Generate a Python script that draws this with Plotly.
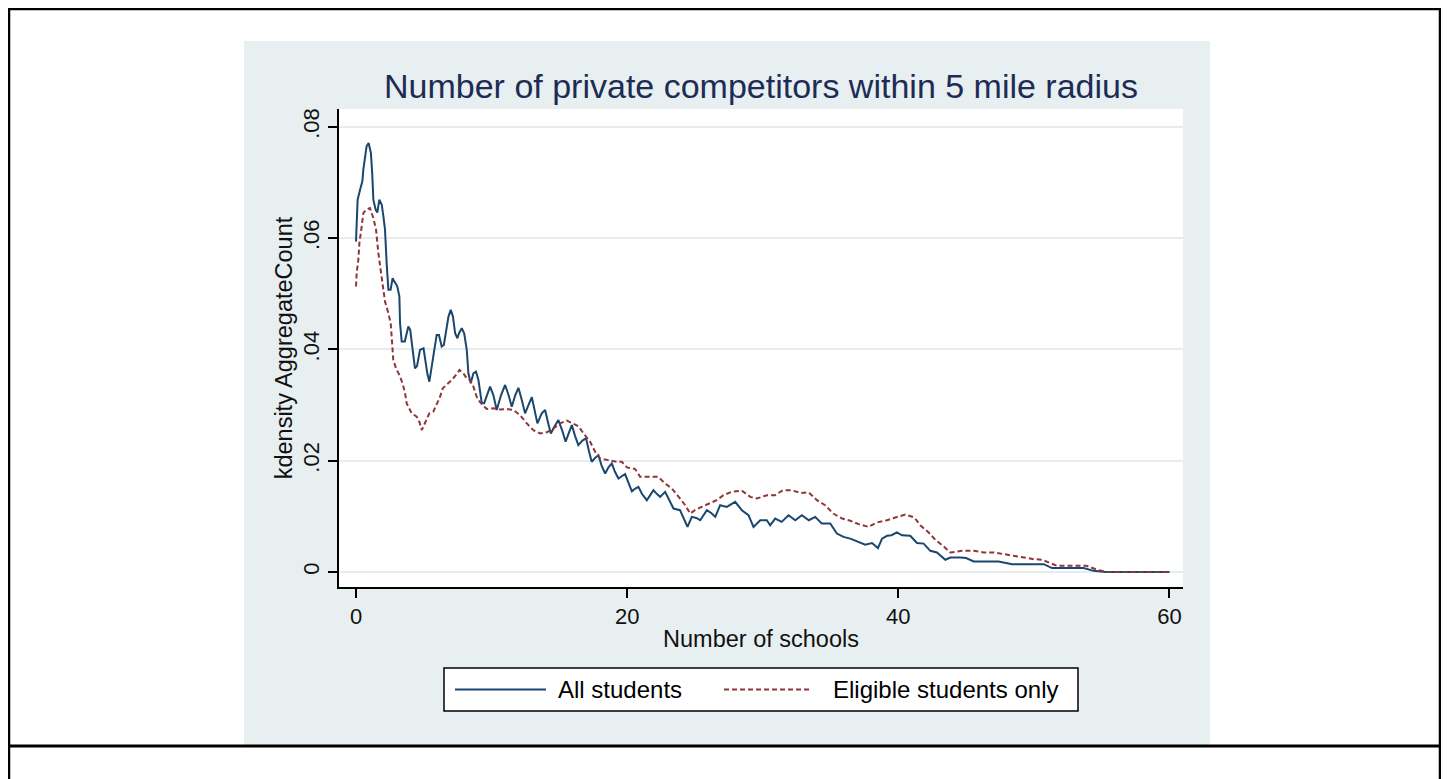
import plotly.graph_objects as go

# ---------------- data ----------------
x_all = [
    0, 0.05, 0.12, 0.3, 0.47, 0.54, 0.66, 0.78, 0.93, 1.1,
    1.2, 1.28, 1.45, 1.57, 1.72, 1.9, 2.02, 2.14, 2.26, 2.39,
    2.55, 2.7, 2.88, 3.05, 3.2, 3.25, 3.37, 3.6, 3.86, 4.0,
    4.18, 4.35, 4.5, 4.72, 4.98, 5.09, 5.26, 5.41, 5.6, 5.76,
    5.95, 6.12, 6.32, 6.48, 6.64, 6.82, 6.99, 7.15, 7.31, 7.48,
    7.6, 7.8, 7.98, 8.17, 8.29, 8.46, 8.66, 8.85, 9.03, 9.15,
    9.28, 9.45, 9.64, 9.89, 10.13, 10.38, 10.7, 11.0, 11.25, 11.49,
    11.75, 11.98, 12.22, 12.47, 12.72, 12.97, 13.18, 13.38, 13.7, 13.95,
    14.15, 14.37, 14.65, 14.93, 15.2, 15.46, 15.7, 15.92, 16.15, 16.4,
    16.7, 16.97, 17.2, 17.39, 17.63, 17.88, 18.13, 18.38, 18.62, 18.87,
    19.1, 19.36, 19.6, 19.85, 20.1, 20.35, 20.6, 20.83, 21.1, 21.45,
    21.7, 21.94, 22.2, 22.44, 22.8, 23.1, 23.42, 23.9, 24.28, 24.45,
    24.77, 25.1, 25.39, 25.88, 26.2, 26.5, 26.86, 27.35, 27.97, 28.46,
    28.95, 29.32, 29.82, 30.3, 30.55, 30.92, 31.4, 31.9, 32.4, 32.89,
    33.4, 33.87, 34.35, 34.98, 35.47, 35.96, 36.46, 36.95, 37.56, 38.06,
    38.5, 38.8, 39.17, 39.5, 39.9, 40.27, 40.88, 41.38, 41.87, 42.36,
    42.85, 43.47, 43.84, 44.58, 45.0, 45.56, 47.4, 48.39, 50.73, 51.34,
    52.7, 53.19, 53.68, 54.4, 55.28, 60,
]
y_all = [
    0.0594, 0.0627, 0.0669, 0.0687, 0.0702, 0.0723, 0.0747, 0.0765, 0.0771, 0.0753,
    0.0714, 0.0669, 0.0651, 0.0646, 0.0669, 0.0660, 0.0639, 0.0615, 0.0555, 0.0507,
    0.0507, 0.0528, 0.0520, 0.0513, 0.0495, 0.0447, 0.0414, 0.0414, 0.0441, 0.0435,
    0.0399, 0.0366, 0.0370, 0.0399, 0.0402, 0.0381, 0.0357, 0.0342, 0.0369, 0.0399,
    0.0426, 0.0426, 0.0405, 0.0408, 0.0435, 0.0459, 0.0471, 0.0459, 0.0429, 0.0420,
    0.0429, 0.0438, 0.0429, 0.0399, 0.0357, 0.0339, 0.0357, 0.0360, 0.0345, 0.0321,
    0.0303, 0.0303, 0.0315, 0.0333, 0.0318, 0.0291, 0.0318, 0.0336, 0.0318, 0.0297,
    0.0318, 0.0331, 0.0310, 0.0285, 0.0300, 0.0314, 0.0290, 0.0267, 0.0285, 0.0291,
    0.0270, 0.0249, 0.0262, 0.0273, 0.0255, 0.0234, 0.0250, 0.0264, 0.0245, 0.0228,
    0.0236, 0.0240, 0.0215, 0.0198, 0.0205, 0.0210, 0.0190, 0.0177, 0.0188, 0.0195,
    0.0180, 0.0168, 0.0172, 0.0176, 0.0160, 0.0145, 0.0150, 0.0153, 0.0140, 0.0129,
    0.0138, 0.0147, 0.0140, 0.0135, 0.0144, 0.0128, 0.0114, 0.0111, 0.0090, 0.0081,
    0.0099, 0.0097, 0.0093, 0.0111, 0.0106, 0.0099, 0.0120, 0.0117, 0.0126, 0.0111,
    0.0102, 0.0081, 0.0093, 0.0093, 0.0084, 0.0096, 0.0090, 0.0102, 0.0093, 0.0102,
    0.0093, 0.0099, 0.0087, 0.0087, 0.0069, 0.0063, 0.0060, 0.0055, 0.0049, 0.0052,
    0.0043, 0.0060, 0.0065, 0.0066, 0.0071, 0.0066, 0.0065, 0.0052, 0.0051, 0.0038,
    0.0035, 0.0022, 0.0026, 0.0026, 0.0025, 0.0019, 0.0019, 0.0014, 0.0014, 0.0007,
    0.0007, 0.0008, 0.0007, 0.0002, 0.0000, 0.0000,
]

x_elig = [
    0, 0.05, 0.17, 0.25, 0.42, 0.54, 0.79, 1.03, 1.28, 1.48,
    1.65, 1.82, 1.97, 2.14, 2.39, 2.56, 2.63, 2.75, 2.95, 3.2,
    3.44, 3.62, 3.74, 4.11, 4.48, 4.67, 4.85, 5.09, 5.41, 5.7,
    6.0, 6.2, 6.4, 6.69, 7.06, 7.38, 7.63, 7.92, 8.17, 8.41,
    8.66, 8.9, 9.15, 9.64, 10.13, 10.63, 11.1, 11.6, 12.1, 12.6,
    13.08, 13.58, 14.07, 14.56, 15.06, 15.55, 16.04, 16.4, 16.78, 17.27,
    17.64, 18.0, 18.62, 19.24, 19.6, 19.98, 20.59, 20.96, 21.7, 22.3,
    22.8, 23.3, 23.8, 24.28, 24.65, 25.0, 25.5, 26.0, 26.6, 27.1,
    27.7, 28.46, 29.08, 29.57, 30.31, 30.9, 31.5, 32.1, 32.8, 33.4,
    34.0, 34.6, 35.2, 35.85, 36.46, 37.07, 37.8, 38.43, 39.17, 39.78,
    40.52, 41.18, 41.62, 42.24, 42.73, 43.34, 43.84, 44.7, 45.56, 46.3,
    47.04, 47.8, 48.52, 49.26, 50.0, 50.6, 51.2, 51.7, 53.19, 53.9,
    54.66, 55.4, 60,
]
y_elig = [
    0.0513, 0.0537, 0.0561, 0.0591, 0.0621, 0.0645, 0.0652, 0.0654, 0.0636, 0.0615,
    0.0573, 0.0543, 0.0507, 0.0486, 0.0465, 0.0447, 0.0423, 0.0381, 0.0366, 0.0354,
    0.0339, 0.0321, 0.0303, 0.0285, 0.0279, 0.0270, 0.0255, 0.0267, 0.0285, 0.0288,
    0.0303, 0.0315, 0.0330, 0.0336, 0.0345, 0.0354, 0.0363, 0.0357, 0.0348, 0.0345,
    0.0333, 0.0315, 0.0305, 0.0293, 0.0294, 0.0292, 0.0293, 0.0291, 0.0282, 0.0267,
    0.0255, 0.0249, 0.0251, 0.0258, 0.0267, 0.0272, 0.0267, 0.0262, 0.0249, 0.0234,
    0.0216, 0.0204, 0.0201, 0.0198, 0.0198, 0.0188, 0.0185, 0.0171, 0.0171, 0.0171,
    0.0159, 0.0150, 0.0135, 0.0120, 0.0105, 0.0111, 0.0117, 0.0123, 0.0129, 0.0138,
    0.0144, 0.0146, 0.0135, 0.0132, 0.0138, 0.0138, 0.0147, 0.0147, 0.0142, 0.0143,
    0.0129, 0.0120, 0.0105, 0.0096, 0.0092, 0.0086, 0.0081, 0.0089, 0.0093, 0.0098,
    0.0103, 0.0098, 0.0084, 0.0071, 0.0058, 0.0046, 0.0035, 0.0038, 0.0038, 0.0035,
    0.0035, 0.0032, 0.0029, 0.0026, 0.0023, 0.0022, 0.0016, 0.0011, 0.0011, 0.0011,
    0.0004, 0.0000, 0.0000,
]

x_ticks = [0, 20, 40, 60]
x_tick_labels = ["0", "20", "40", "60"]
y_ticks = [0, 0.02, 0.04, 0.06, 0.08]
y_tick_labels = ["0", ".02", ".04", ".06", ".08"]

series_names = ["All students", "Eligible students only"]
title_text = "Number of private competitors within 5 mile radius"
x_title = "Number of schools"
y_title = "kdensity AggregateCount"

# ---------------- styling ----------------
# The page body has an 8px margin, so the figure is sized to fit the window
# and layout positions below are given in window pixels, shifted by OFF.
OFF = 8
W, H = 1449 - OFF, 779 - OFF
BLUE = "#1a476f"
RED = "#90353b"
REGION = "#e8eff1"
GRID = "#e6edf0"
FONT = "Liberation Sans, Arial, sans-serif"


def px(x):
    return (x - OFF) / W


def py(y):
    return 1 - (y - OFF) / H


fig = go.Figure()
fig.add_trace(go.Scatter(x=x_all, y=y_all, mode="lines", name=series_names[0],
                         line=dict(color=BLUE, width=2), showlegend=False))
fig.add_trace(go.Scatter(x=x_elig, y=y_elig, mode="lines", name=series_names[1],
                         line=dict(color=RED, width=2, dash="5px,3px"), showlegend=False))

shapes = [
    # graph region background
    dict(type="rect", xref="paper", yref="paper", x0=px(244), x1=px(1210),
         y0=py(745), y1=py(41), fillcolor=REGION, line=dict(width=0), layer="below"),
    # plot region (white)
    dict(type="rect", xref="paper", yref="paper", x0=px(339), x1=px(1183),
         y0=py(587), y1=py(109), fillcolor="white", line=dict(width=0), layer="below"),
    # outer page frame
    dict(type="line", xref="paper", yref="paper", x0=px(8), x1=px(1441), y0=py(9), y1=py(9),
         line=dict(color="black", width=2.5)),
    dict(type="line", xref="paper", yref="paper", x0=px(9), x1=px(9), y0=py(8), y1=py(779),
         line=dict(color="black", width=2.5)),
    dict(type="line", xref="paper", yref="paper", x0=px(1440), x1=px(1440), y0=py(8), y1=py(779),
         line=dict(color="black", width=2.5)),
    dict(type="line", xref="paper", yref="paper", x0=px(8), x1=px(1441), y0=py(746), y1=py(746),
         line=dict(color="black", width=3)),
    # legend box
    dict(type="rect", xref="paper", yref="paper", x0=px(444), x1=px(1078),
         y0=py(711), y1=py(668), fillcolor="white", line=dict(color="black", width=1.5)),
    dict(type="line", xref="paper", yref="paper", x0=px(455), x1=px(546), y0=py(689.5), y1=py(689.5),
         line=dict(color=BLUE, width=2)),
    dict(type="line", xref="paper", yref="paper", x0=px(724), x1=px(812), y0=py(689.5), y1=py(689.5),
         line=dict(color=RED, width=2, dash="5px,3px")),
]

annotations = [
    dict(text=series_names[0], xref="paper", yref="paper", x=px(556), y=py(689.5),
         xanchor="left", yanchor="middle", showarrow=False,
         font=dict(family=FONT, size=24, color="black")),
    dict(text=series_names[1], xref="paper", yref="paper", x=px(831), y=py(689.5),
         xanchor="left", yanchor="middle", showarrow=False,
         font=dict(family=FONT, size=24, color="black")),
]

fig.update_layout(
    template="none",
    width=W, height=H,
    margin=dict(l=0, r=0, t=0, b=0, pad=0),
    paper_bgcolor="white",
    plot_bgcolor="rgba(0,0,0,0)",
    showlegend=False,
    font=dict(family=FONT, color="black"),
    title=dict(text=title_text, x=px(761), xanchor="center", xref="paper",
               y=py(86), yanchor="middle", yref="container",
               font=dict(family=FONT, size=34, color="#1e2c55")),
    shapes=shapes,
    annotations=annotations,
    xaxis=dict(
        domain=[px(339), px(1183)],
        range=[-1.254, 61.0],
        tickmode="array", tickvals=x_ticks, ticktext=x_tick_labels,
        ticks="outside", ticklen=9, tickwidth=1.5, tickcolor="black",
        tickfont=dict(family=FONT, size=22, color="#111"),
        showline=True, linecolor="black", linewidth=1.5,
        showgrid=False, zeroline=False, automargin=False,
        title=dict(text=x_title, font=dict(family=FONT, size=23.5, color="#111"), standoff=2),
    ),
    yaxis=dict(
        domain=[py(587), py(109)],
        range=[-0.0027, 0.0832],
        tickmode="array", tickvals=y_ticks, ticktext=y_tick_labels,
        tickangle=-90,
        ticks="outside", ticklen=9, tickwidth=1.5, tickcolor="black",
        tickfont=dict(family=FONT, size=22, color="#111"),
        showline=True, linecolor="black", linewidth=1.5,
        showgrid=True, gridcolor=GRID, gridwidth=1.5,
        zeroline=False, automargin=False,
        title=dict(text=y_title, font=dict(family=FONT, size=23.5, color="#111"), standoff=0),
    ),
)

fig.write_html("out.html")
